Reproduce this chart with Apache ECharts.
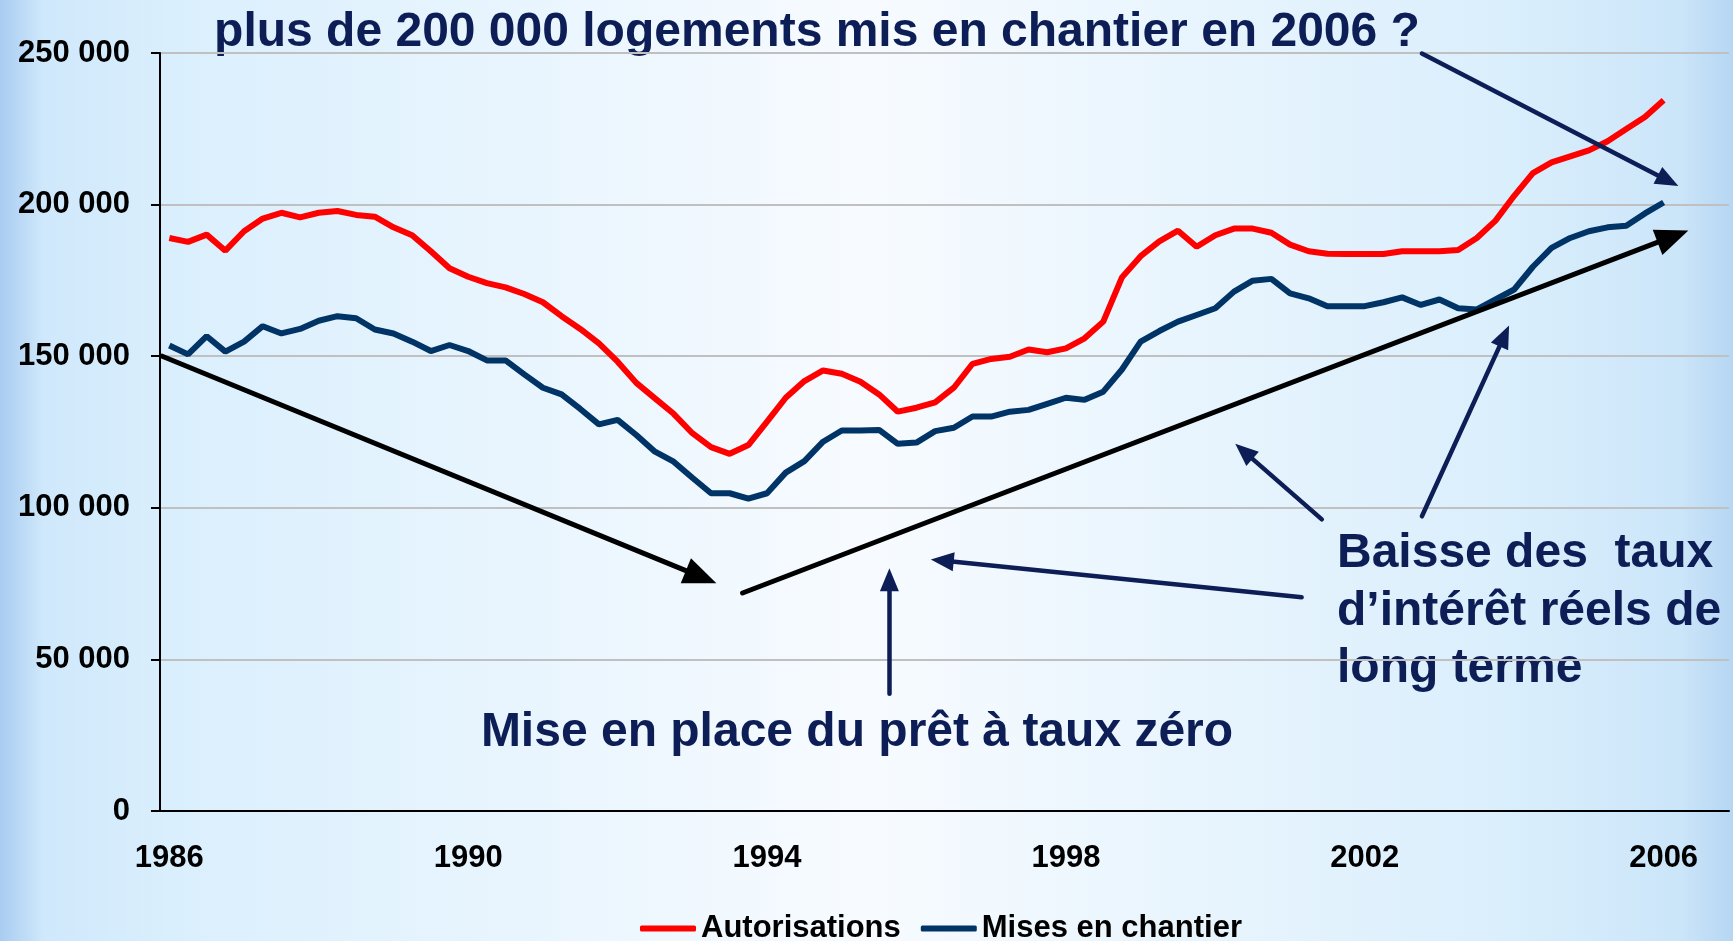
<!DOCTYPE html>
<html>
<head>
<meta charset="utf-8">
<script src="https://cdn.jsdelivr.net/npm/echarts@6/dist/echarts.min.js"></script>
<style>
  html, body { margin: 0; padding: 0; }
  #chart { width: 1733px; height: 941px; }
</style>
</head>
<body>
<div id="chart"></div>
<script>
// trimestres 1986 T1 .. 2006 T4 (84 bandes, données jusqu'à 2006 T1)
const quarters = []
for (let y = 1986; y <= 2006; y++) {
  for (let q = 1; q <= 4; q++) quarters.push(y + ' T' + q)
}

const autorisations = [
  189000, 187700, 190100, 184800, 191200, 195400, 197300, 195800, 197300, 197900,
  196600, 196000, 192500, 189900, 184600, 179000, 176200, 174100, 172700, 170500,
  167800, 163200, 159000, 154200, 148200, 141200, 136100, 131000, 124600, 120000,
  117800, 120700, 128400, 136300, 141800, 145300, 144200, 141600, 137400, 131700,
  133000, 134800, 139600, 147500, 149100, 149800, 152200, 151300, 152600, 155900,
  161400, 176000, 183000, 187900, 191400, 186100, 189900, 192100, 192100, 190700,
  186800, 184600, 183800, 183700, 183700, 183700, 184600, 184600, 184600, 185000,
  189000, 194700, 202900, 210400, 213900, 215900, 217900, 220900, 224900, 228900,
  234400
]

const misesEnChantier = [
  153500, 150600, 156600, 151500, 154800, 159900, 157500, 159000, 161700, 163200,
  162500, 158800, 157500, 154800, 151700, 153700, 151700, 148600, 148600, 144000,
  139600, 137400, 132600, 127500, 129000, 124000, 118500, 115200, 109900, 104800,
  104800, 103000, 104800, 111600, 115400, 121800, 125500, 125500, 125700, 121100,
  121500, 125300, 126400, 130100, 130100, 131700, 132300, 134300, 136300, 135600,
  138300, 145600, 154800, 158300, 161400, 163600, 165800, 171300, 174900, 175500,
  170700, 169100, 166500, 166500, 166500, 167800, 169400, 166900, 168700, 165800,
  165400, 168700, 172000, 179500, 185700, 189000, 191200, 192500, 193000, 197100,
  200700
]

const yTicks = [0, 50000, 100000, 150000, 200000, 250000]

// flèches d'annotation : [x départ, y départ, x pointe, y pointe] en trimestres / logements
const blackArrows = [
  [0.12, 150000, 28.97, 77200],
  [31.19, 71900, 81.0, 189500]
]
const navyArrows = [
  [67.56, 249800, 80.74, 207900],
  [62.2, 96200, 58.03, 118600],
  [67.56, 97200, 71.97, 156700],
  [61.12, 70500, 41.88, 82600],
  [39.05, 38700, 39.05, 76300]
]

const navy = '#0d1d56'
const font = '"Liberation Sans", Arial, sans-serif'

const fmt = v => String(v).replace(/\B(?=(\d{3})+(?!\d))/g, ' ')

const arrowLines = (list, color, width, size) => list.map(a => [
  { coord: [a[0], a[1]], symbol: 'none', lineStyle: { color, width, type: 'solid', cap: 'round' } },
  { coord: [a[2], a[3]], symbol: 'triangle', symbolSize: size }
])

const txt = (text, x, y, align) => ({
  type: 'text',
  x: x, y: y,
  style: {
    text: text,
    fill: navy,
    font: 'bold 48px ' + font,
    textAlign: align, align: align,
    textVerticalAlign: 'middle', verticalAlign: 'middle'
  }
})

const chart = echarts.init(document.getElementById('chart'))

chart.setOption({
  animation: false,
  backgroundColor: new echarts.graphic.LinearGradient(0, 0, 1, 0, [
    { offset: 0, color: '#a9ccf1' },
    { offset: 0.025, color: '#cfe8fb' },
    { offset: 0.1, color: '#daeffd' },
    { offset: 0.5, color: '#f7fbff' },
    { offset: 0.88, color: '#d9eefc' },
    { offset: 0.97, color: '#cbe5f9' },
    { offset: 1, color: '#b6d6f3' }
  ]),
  grid: { left: 160, right: 4, top: 53, bottom: 130, outerBoundsMode: 'none' },
  legend: {
    data: ['Autorisations', 'Mises en chantier'],
    left: 635,
    top: 908,
    icon: 'roundRect',
    itemWidth: 56,
    itemHeight: 6,
    itemGap: 20,
    textStyle: { color: '#000', fontWeight: 'bold', fontSize: 31, fontFamily: font }
  },
  xAxis: [
    {
      type: 'category',
      data: quarters,
      boundaryGap: true,
      axisLine: { lineStyle: { color: '#000', width: 2 } },
      axisTick: { interval: 3, length: 11, lineStyle: { color: '#000', width: 2 } },
      axisLabel: {
        interval: 15,
        margin: 32,
        color: '#000',
        fontWeight: 'bold',
        fontSize: 31,
        fontFamily: font,
        formatter: v => v.slice(0, 4)
      },
      splitLine: { show: false }
    },
    { type: 'value', min: 0, max: 84, show: false }
  ],
  yAxis: {
    type: 'value',
    min: yTicks[0],
    max: yTicks[yTicks.length - 1],
    interval: 50000,
    axisLine: { show: true, lineStyle: { color: '#000', width: 2 } },
    axisTick: { show: true, length: 9, lineStyle: { color: '#000', width: 2 } },
    axisLabel: {
      margin: 30,
      color: '#000',
      fontWeight: 'bold',
      fontSize: 31,
      fontFamily: font,
      formatter: fmt
    },
    splitLine: { lineStyle: { color: '#c0c0c0', width: 2 } }
  },
  series: [
    {
      name: 'Autorisations',
      type: 'line',
      data: autorisations,
      symbol: 'none',
      lineStyle: { color: '#ff0000', width: 6 },
      itemStyle: { color: '#ff0000' }
    },
    {
      name: 'Mises en chantier',
      type: 'line',
      data: misesEnChantier,
      symbol: 'none',
      lineStyle: { color: '#003366', width: 6 },
      itemStyle: { color: '#003366' }
    },
    {
      name: 'flechesNoires',
      type: 'line',
      xAxisIndex: 1,
      data: [],
      markLine: {
        silent: true,
        label: { show: false },
        itemStyle: { color: '#000' },
        data: arrowLines(blackArrows, '#000', 5, [27, 33])
      }
    },
    {
      name: 'flechesBleues',
      type: 'line',
      xAxisIndex: 1,
      data: [],
      markLine: {
        silent: true,
        label: { show: false },
        itemStyle: { color: navy },
        data: arrowLines(navyArrows, navy, 4.5, [19, 23])
      }
    }
  ],
  graphic: [
    txt('plus de 200 000 logements mis en chantier en 2006 ?', 817, 33, 'center'),
    txt('Mise en place du prêt à taux zéro', 857, 733, 'center'),
    txt('Baisse des  taux', 1337, 554, 'left'),
    txt('d’intérêt réels de', 1337, 612, 'left'),
    txt('long terme', 1337, 669, 'left')
  ]
})
</script>
</body>
</html>
